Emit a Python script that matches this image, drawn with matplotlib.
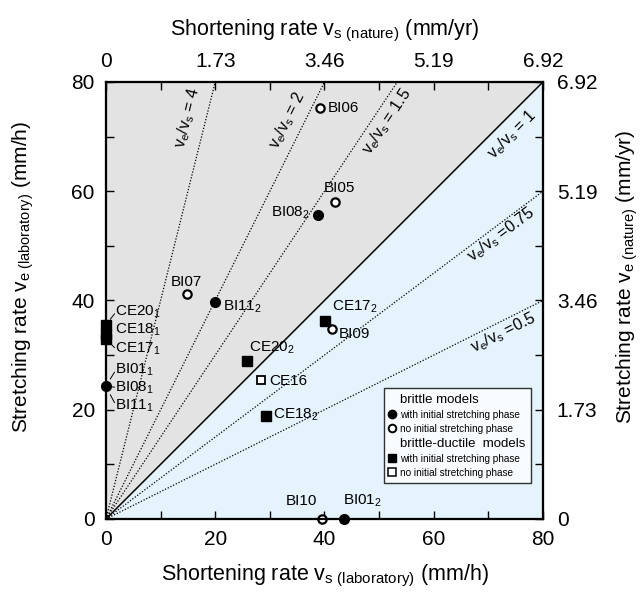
import numpy as np
import matplotlib
matplotlib.use('Agg')
from matplotlib import pyplot as plt
from matplotlib.lines import Line2D
from matplotlib.ticker import MultipleLocator

plt.rcParams['font.family'] = ['Liberation Sans', 'DejaVu Sans']
plt.rcParams['mathtext.fontset'] = 'custom'
plt.rcParams['mathtext.rm'] = 'Liberation Sans'
plt.rcParams['mathtext.it'] = 'Liberation Sans:italic'

# ratio lines v_e / v_s
ratios = [4, 2, 1.5, 1, 0.75, 0.5]
ratio_text = ['4', '2', '1.5', '1', '0.75', '0.5']
ratio_label_pos = [(15.0, 73.4), (33.3, 73.0), (51.4, 72.7),
                   (74.3, 70.3), (72.4, 52.0), (72.7, 34.0)]

# brittle models, with initial stretching phase (filled circles)
bf_name = ['BI08$_\\mathrm{2}$', 'BI11$_\\mathrm{2}$', 'BI01$_\\mathrm{2}$', 'BI01/08/11$_\\mathrm{1}$']
bf_x = [38.8, 20.0, 43.6, 0.0]
bf_y = [55.7, 39.8, 0.0, 24.3]
# brittle models, no initial stretching phase (open circles)
bo_name = ['BI06', 'BI05', 'BI07', 'BI09', 'BI10']
bo_x = [39.2, 42.0, 14.8, 41.3, 39.5]
bo_y = [75.3, 58.0, 41.1, 34.8, 0.0]
# brittle-ductile, with initial stretching phase (filled squares)
df_name = ['CE20$_\\mathrm{1}$', 'CE18$_\\mathrm{1}$', 'CE17$_\\mathrm{1}$',
           'CE20$_\\mathrm{2}$', 'CE18$_\\mathrm{2}$', 'CE17$_\\mathrm{2}$']
df_x = [0.0, 0.0, 0.0, 25.9, 29.3, 40.1]
df_y = [35.5, 33.8, 33.0, 28.9, 18.9, 36.2]
# brittle-ductile, no initial stretching phase (open squares)
do_name = ['CE16']
do_x = [28.4]
do_y = [25.4]

ticks_lab = [0, 20, 40, 60, 80]
ticks_nat = ['0', '1.73', '3.46', '5.19', '6.92']

fig = plt.figure(figsize=(6.4, 5.94), dpi=100)
ax = fig.add_axes([0.1656, 0.1263, 0.6828, 0.7357])
ax.set_xlim(0, 80)
ax.set_ylim(0, 80)

xx = np.array([0, 80])
ax.fill_between(xx, xx, 80, color='#e3e3e3', lw=0, zorder=0)
ax.fill_between(xx, 0, xx, color='#e5f3fd', lw=0, zorder=0)

for r, t, (lx, ly) in zip(ratios, ratio_text, ratio_label_pos):
    if r == 1:
        ax.plot(xx, r * xx, color='black', lw=1.1, zorder=1)
    else:
        ax.plot(xx, r * xx, color='black', lw=0.9, ls=(0, (1, 1.4)), zorder=1)
    sep = ' = ' if r >= 1 else ' ='
    ax.text(lx, ly, 'v$_\\mathrm{e}$/v$_\\mathrm{s}$' + sep + t, fontsize=11.5,
            rotation=np.degrees(np.arctan(r)), rotation_mode='anchor',
            ha='center', va='center', zorder=3)

ms = 7
ax.plot(bf_x, bf_y, 'o', color='black', ms=ms, clip_on=False, zorder=4)
ax.plot(bo_x, bo_y, 'o', mfc='white', mec='black', mew=1.6, ms=ms - 1, clip_on=False, zorder=4)
ax.plot(df_x, df_y, 's', color='black', ms=ms, clip_on=False, zorder=4)
ax.plot(do_x, do_y, 's', mfc='white', mec='black', mew=1.3, ms=ms - 1, clip_on=False, zorder=4)

fs = 11
def lab(txt, tx, ty, ha='left', my=None):
    ax.text(tx, ty, txt, fontsize=fs, ha=ha, va='center', zorder=5)
    if my is not None:
        # short leader from the marker on the y axis to the label
        ax.plot([0.8, 1.55], [my + 0.45 * (ty - my), my + 0.85 * (ty - my)],
                color='black', lw=0.7, zorder=5)

lab(bo_name[0], 40.6, 75.3)
lab(bo_name[1], 39.9, 60.6)
lab(bf_name[0], 37.3, 56.1, ha='right')
lab(bo_name[2], 11.8, 43.4)
lab(bf_name[1], 21.4, 38.8)
lab(bo_name[3], 42.6, 33.8)
lab(bo_name[4], 35.8, 3.3, ha='center')
lab(bf_name[2], 43.4, 3.4)
lab(df_name[5], 41.3, 38.8)
lab(df_name[3], 26.2, 31.3)
lab(df_name[4], 30.5, 19.1)
lab(do_name[0], 29.8, 25.3)
# stacked labels at the y axis
lab(df_name[0], 1.7, 37.9, my=df_y[0])
lab(df_name[1], 1.7, 34.6)
lab(df_name[2], 1.7, 31.1, my=df_y[2])
lab('BI01$_\\mathrm{1}$', 1.7, 27.3, my=bf_y[3])
lab('BI08$_\\mathrm{1}$', 1.7, 24.1, my=bf_y[3])
lab('BI11$_\\mathrm{1}$', 1.7, 20.8, my=bf_y[3])

# axes, ticks
ax.set_xticks(ticks_lab)
ax.set_yticks(ticks_lab)
ax.xaxis.set_minor_locator(MultipleLocator(10))
ax.yaxis.set_minor_locator(MultipleLocator(10))
ax.tick_params(which='both', direction='in', length=6, width=1.0, labelsize=15, pad=8)

axr = ax.twinx()
axr.set_ylim(0, 80)
axr.set_yticks(ticks_lab)
axr.set_yticklabels(ticks_nat)
axr.yaxis.set_minor_locator(MultipleLocator(10))
axr.tick_params(which='both', direction='in', length=6, width=1.0, labelsize=15, pad=10)

axt = ax.twiny()
axt.set_xlim(0, 80)
axt.set_xticks(ticks_lab)
axt.set_xticklabels(ticks_nat)
axt.xaxis.set_minor_locator(MultipleLocator(10))
axt.tick_params(which='both', direction='in', length=6, width=1.0, labelsize=15, pad=8)

for a in (ax, axr, axt):
    for s in a.spines.values():
        s.set_linewidth(1.5)

ax.set_xlabel('Shortening rate v$_\\mathrm{s\\ (laboratory)}$ (mm/h)', fontsize=15.5, labelpad=10)
axt.set_xlabel('Shortening rate v$_\\mathrm{s\\ (nature)}$ (mm/yr)', fontsize=15.5, labelpad=12)
ax.set_ylabel('Stretching rate v$_\\mathrm{e\\ (laboratory)}$ (mm/h)', fontsize=15)
axr.set_ylabel('Stretching rate v$_\\mathrm{e\\ (nature)}$ (mm/yr)', fontsize=15, rotation=90)
ax.yaxis.set_label_coords(-0.16, 0.554)
axr.yaxis.set_label_coords(1.163, 0.554)

# legend
blank = Line2D([], [], linestyle='none')
handles = [blank,
           Line2D([], [], ls='none', marker='o', color='black', ms=6),
           Line2D([], [], ls='none', marker='o', mfc='white', mec='black', mew=1.4, ms=5.5),
           blank,
           Line2D([], [], ls='none', marker='s', color='black', ms=6),
           Line2D([], [], ls='none', marker='s', mfc='white', mec='black', mew=1.1, ms=5.5)]
labels = ['brittle models', 'with initial stretching phase', 'no initial stretching phase',
          'brittle-ductile  models', 'with initial stretching phase', 'no initial stretching phase']
leg = ax.legend(handles, labels, loc='lower left', bbox_to_anchor=(0.636, 0.082),
                fontsize=7.2, frameon=True, fancybox=False, edgecolor='black',
                handlelength=0.6, handletextpad=0.5, labelspacing=0.4, borderpad=0.55,
                borderaxespad=0)
leg.get_frame().set_linewidth(1.0)
leg.set_zorder(6)
for i in (0, 3):
    leg.get_texts()[i].set_fontsize(9.5)

fig.savefig('out.png', dpi=100)
